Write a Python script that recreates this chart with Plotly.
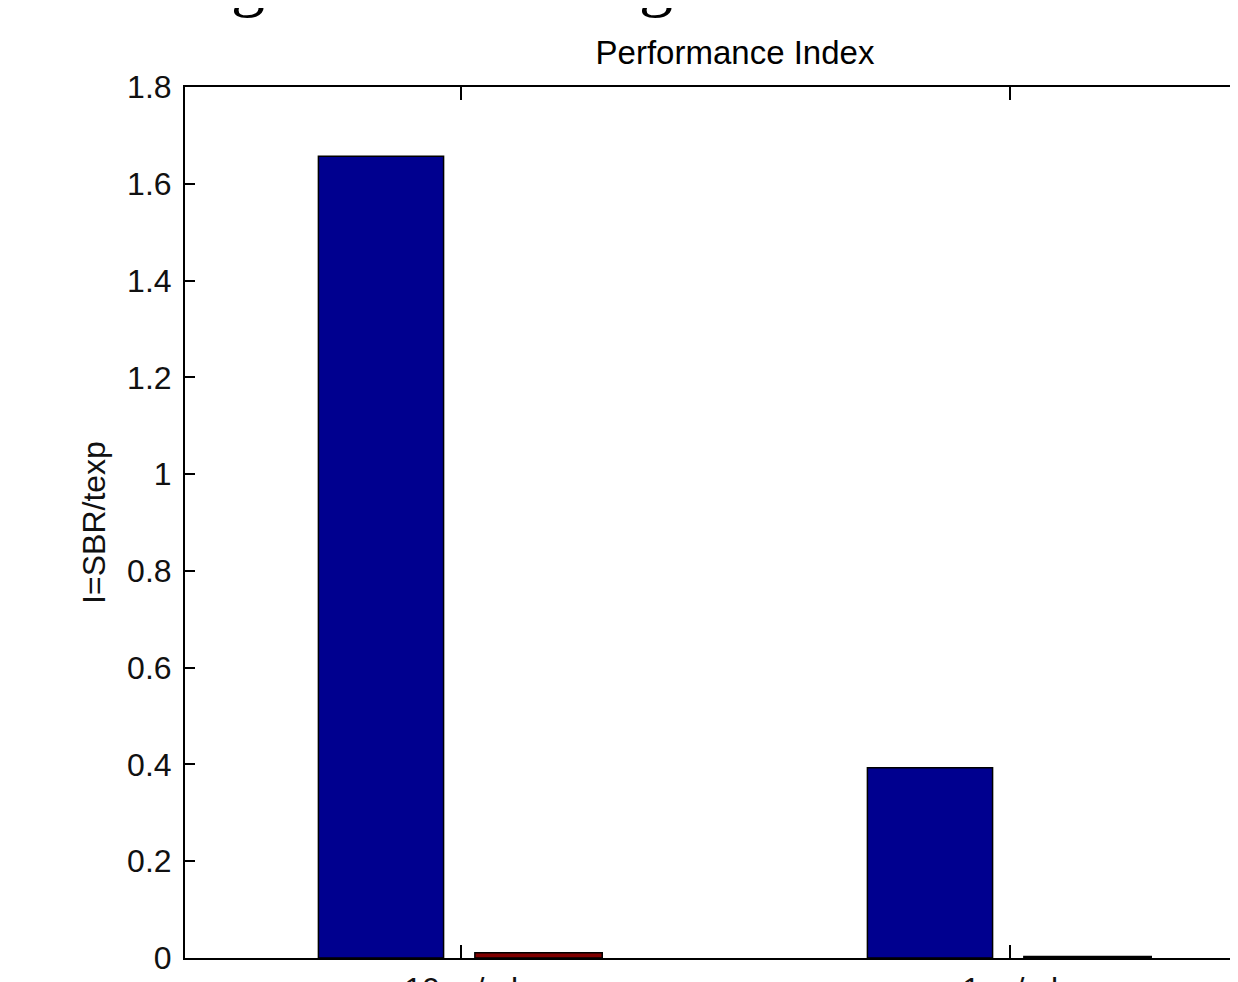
import plotly.graph_objects as go

# data
categories = ["10ng/ml", "1ng/ml"]
cat_pos = [1, 2]
series_a = [1.657, 0.393]   # dark blue
series_b = [0.011, 0.003]   # dark red
y_ticks = [0, 0.2, 0.4, 0.6, 0.8, 1, 1.2, 1.4, 1.6, 1.8]
y_ticktext = ["0", "0.2", "0.4", "0.6", "0.8", "1", "1.2", "1.4", "1.6", "1.8"]

FONT = "Liberation Sans, Arial, sans-serif"
FS = 32

# page body has an 8px margin; layout numbers below compensate for it
L, T, B = 177, 79, 32
W, H = 1238, 982
PW = W - L
PH = H - T - B
X0 = 0.497

fig = go.Figure()
fig.add_trace(go.Bar(x=cat_pos, y=series_a, width=0.228, offset=-0.26,
                     marker=dict(color="#00008F", line=dict(color="black", width=1.5)),
                     showlegend=False))
fig.add_trace(go.Bar(x=cat_pos, y=series_b, width=0.232, offset=0.025,
                     marker=dict(color="#800000", line=dict(color="black", width=1.5)),
                     showlegend=False))

# partially visible large serif heading (cut off at top of the page)
for gx in [240, 648]:
    fig.add_annotation(text="g", xref="paper", yref="paper",
                       x=(gx - L) / PW, y=(H - B - 13) / PH,
                       xanchor="center", yanchor="bottom", showarrow=False,
                       font=dict(family="Liberation Serif, Times New Roman, serif",
                                 size=68, color="black"))

fig.update_layout(
    width=W, height=H,
    margin=dict(l=L, r=0, t=T, b=B),
    paper_bgcolor="white", plot_bgcolor="white",
    barmode="overlay",
    font=dict(family=FONT, size=FS, color="#111"),
    title=dict(text="Performance Index", x=727 / W, xref="container", xanchor="center",
               y=1 - 44 / H, yref="container", yanchor="middle",
               font=dict(family=FONT, size=33, color="black")),
    xaxis=dict(range=[X0, X0 + PW / 549], tickvals=cat_pos, ticktext=categories,
               showline=True, linecolor="black", linewidth=2, mirror="ticks",
               ticks="inside", ticklen=13, tickwidth=1.5, tickcolor="black",
               showgrid=False, zeroline=False, ticklabelstandoff=2,
               automargin=False),
    yaxis=dict(range=[0, 1.8], tickvals=y_ticks, ticktext=y_ticktext,
               showline=True, linecolor="black", linewidth=2, mirror=False,
               ticks="inside", ticklen=10, tickwidth=1.5, tickcolor="black",
               showgrid=False, zeroline=False, ticklabelstandoff=5,
               automargin=False,
               title=dict(text="I=SBR/texp", standoff=12,
                          font=dict(family=FONT, size=FS, color="#111"))),
)

fig.write_html("out.html")
